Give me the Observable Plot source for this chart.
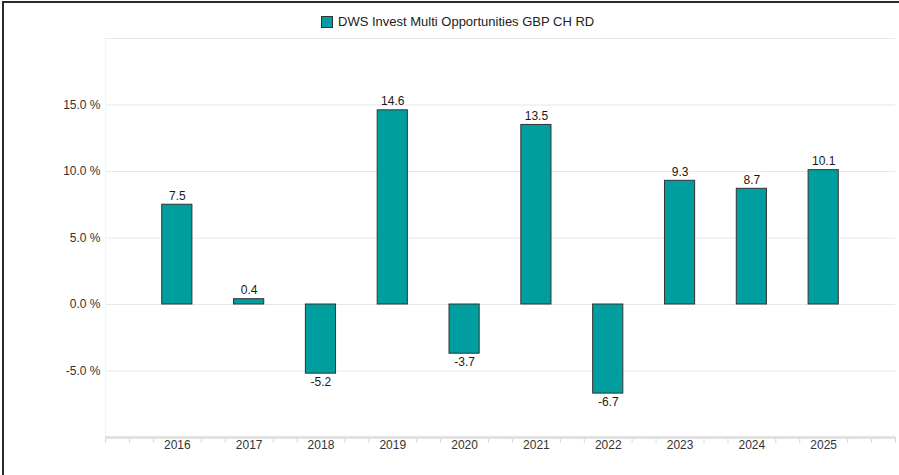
<!DOCTYPE html>
<html>
<head>
<meta charset="utf-8">
<script src="https://cdn.jsdelivr.net/npm/d3@7"></script>
<script src="https://cdn.jsdelivr.net/npm/@observablehq/plot@0.6"></script>
<style>
  html, body { margin: 0; padding: 0; background: #fff; }
  #wrap { position: relative; width: 899px; height: 475px; overflow: hidden; font-family: "Liberation Sans", Arial, sans-serif; }
  #frame { position: absolute; left: 2px; top: 1px; width: 920px; height: 500px; border-top: 2px solid #2a2a2a; border-left: 2px solid #2a2a2a; pointer-events: none; }
  #legend { position: absolute; left: 321px; top: 14px; display: flex; align-items: center; font-size: 13px; color: #222; white-space: nowrap; }
  #legend .sw { width: 10px; height: 10px; background: #009e9e; border: 1px solid #333; margin-right: 5px; }
  #chart { position: absolute; left: 0; top: 0; }
</style>
</head>
<body>
<div id="wrap">
  <div id="chart"></div>
  <div id="legend"><span class="sw"></span><span id="legendText"></span></div>
  <div id="frame"></div>
</div>
<script>
const seriesName = "DWS Invest Multi Opportunities GBP CH RD";
const years = [2016, 2017, 2018, 2019, 2020, 2021, 2022, 2023, 2024, 2025];
const values = [7.5, 0.4, -5.2, 14.6, -3.7, 13.5, -6.7, 9.3, 8.7, 10.1];
const yTickValues = [-5, 0, 5, 10, 15];
const gridValues = [-5, 0, 5, 10, 15, 20];

const data = years.map((year, i) => ({year, value: values[i]}));
const minorTicks = d3.range(0, 34).map(i => 2015 + i / 3).filter(t => !years.some(y => Math.abs(y - t) < 1e-6));

document.getElementById("legendText").textContent = seriesName;

const fill = "#009e9e";
const plot = Plot.plot({
  width: 899,
  height: 475,
  marginLeft: 105,
  marginRight: 4,
  marginTop: 38,
  marginBottom: 38,
  style: {fontFamily: "'Liberation Sans', Arial, sans-serif", background: "transparent"},
  x: {type: "linear", domain: [2015, 2026]},
  y: {type: "linear", domain: [-10, 20]},
  marks: [
    Plot.ruleY(gridValues, {stroke: "#e8e8e8", strokeWidth: 1}),
    Plot.ruleX([2015], {y1: -10, y2: 20, stroke: "#f3f3f3"}),
    Plot.ruleX(minorTicks, {x: d => d, y1: -10, y2: -10.45, stroke: "#d8d8d8", strokeWidth: 1}),
    Plot.ruleY([-10], {stroke: "#e2e2e2", strokeWidth: 3}),
    Plot.rectY(data, {x1: d => d.year - 0.21, x2: d => d.year + 0.21, y1: 0, y2: "value", fill, stroke: "#333", strokeWidth: 1}),
    Plot.text(data.filter(d => d.value >= 0), {x: "year", y: "value", text: d => d.value.toFixed(1), lineAnchor: "bottom", dy: -5, fontSize: 12, fill: "#1a1a1a"}),
    Plot.text(data.filter(d => d.value < 0), {x: "year", y: "value", text: d => d.value.toFixed(1), lineAnchor: "top", dy: 4, fontSize: 12, fill: "#1a1a1a"}),
    Plot.axisY({ticks: yTickValues, tickSize: 0, tickPadding: 5, tickFormat: d => d.toFixed(1) + " %", fontSize: 12, fill: "#333", label: null}),
    Plot.axisX({ticks: years, tickSize: 0, tickPadding: 3, tickFormat: d => String(d), fontSize: 12, fill: "#333", label: null})
  ]
});
document.getElementById("chart").appendChild(plot);
</script>
</body>
</html>
